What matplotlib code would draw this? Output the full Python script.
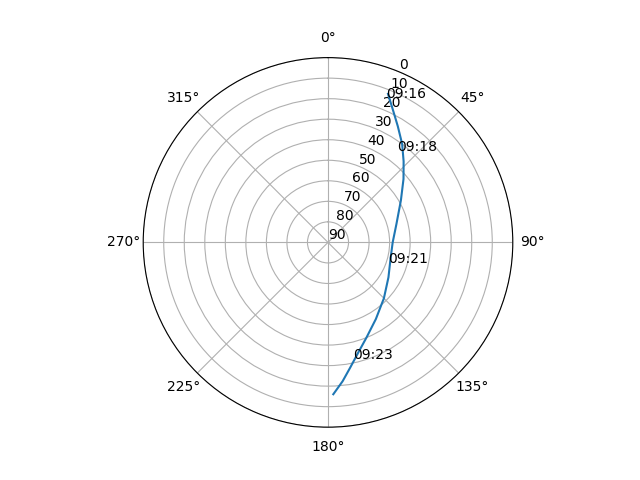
import numpy as np
import matplotlib
matplotlib.use("Agg")
import matplotlib.pyplot as plt

# satellite pass: azimuth (deg), elevation (deg)
azimuth = [22, 26, 31, 37, 43, 50, 60, 75, 90, 105, 120, 135, 148, 158, 165, 170, 174, 178]
elevation = [12, 18, 24, 30, 36, 42, 49, 55.5, 58.5, 58.5, 56, 51.5, 46, 40, 34, 28, 22, 16]

label_times = ["09:16", "09:18", "09:21", "09:23"]
label_az = [22, 37, 109, 168]
label_el = [14, 34, 59, 32]

fig = plt.figure(figsize=(6.4, 4.8), dpi=100)
ax = fig.add_subplot(111, projection="polar")
ax.set_theta_zero_location("N")
ax.set_theta_direction(-1)
ax.plot(np.radians(azimuth), elevation)
for t, a, e in zip(label_times, label_az, label_el):
    ax.text(np.radians(a), e, t)
ax.set_rlim(90, 0)
ax.set_rticks(range(0, 91, 10))
ax.set_rlabel_position(22.5)
fig.savefig("out.png")
